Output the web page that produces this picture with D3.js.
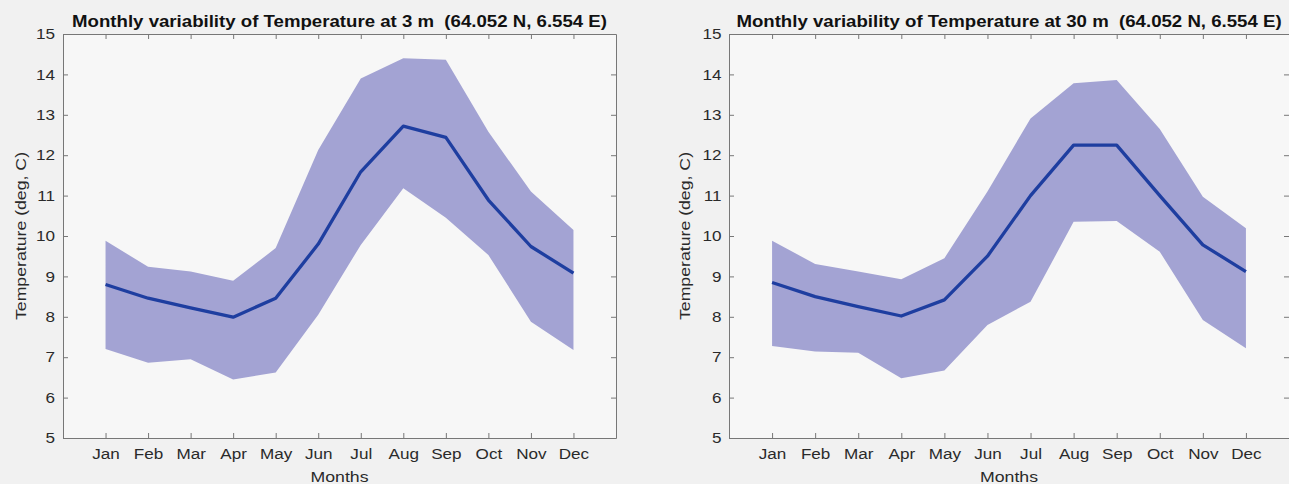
<!DOCTYPE html>
<html>
<head>
<meta charset="utf-8">
<script src="https://cdn.jsdelivr.net/npm/d3@7"></script>
<style>
  body { margin: 0; background: #f1f1f1; }
  svg { display: block; font-family: "Liberation Sans", Arial, sans-serif; }
  text { white-space: pre; }
</style>
</head>
<body>
<svg id="chart" width="1289" height="484"></svg>
<script>
const months = ['Jan', 'Feb', 'Mar', 'Apr', 'May', 'Jun', 'Jul', 'Aug', 'Sep', 'Oct', 'Nov', 'Dec']
const yTicks = [5, 6, 7, 8, 9, 10, 11, 12, 13, 14, 15]

// 3 m depth
const mean3  = [8.80, 8.46, 8.22, 7.99, 8.46, 9.80, 11.59, 12.72, 12.44, 10.89, 9.74, 9.08]
const upper3 = [9.88, 9.24, 9.12, 8.89, 9.70, 12.13, 13.90, 14.40, 14.36, 12.58, 11.10, 10.15]
const lower3 = [7.20, 6.86, 6.95, 6.45, 6.62, 8.05, 9.78, 11.18, 10.45, 9.53, 7.88, 7.18]

// 30 m depth
const mean30  = [8.85, 8.50, 8.25, 8.02, 8.42, 9.50, 11.0, 12.25, 12.25, 11.0, 9.78, 9.12]
const upper30 = [9.88, 9.31, 9.12, 8.93, 9.45, 11.1, 12.91, 13.78, 13.86, 12.65, 10.97, 10.19]
const lower30 = [7.28, 7.14, 7.11, 6.48, 6.67, 7.80, 8.37, 10.35, 10.37, 9.61, 7.92, 7.22]

const SX = 1.18        // glyphs in the picture are wider than Arial
const plotTop = 34, plotBottom = 438
const svg = d3.select('#chart')

function stretch(sel, x, y, rot) {
  sel.attr('transform', `translate(${x},${y})${rot ? ' rotate(' + rot + ')' : ''} scale(${SX},1)`)
}

function panel(o) {
  const x = d3.scaleLinear().domain([0, 13]).range([o.left, o.right])
  const y = d3.scaleLinear().domain([5, 15]).range([plotBottom, plotTop])
  const g = svg.append('g')

  g.append('rect')
    .attr('x', o.left).attr('y', plotTop)
    .attr('width', o.right - o.left).attr('height', plotBottom - plotTop)
    .attr('fill', '#f7f7f7')

  const band = d3.area()
    .x((d, i) => x(i + 1))
    .y0((d, i) => y(o.lower[i]))
    .y1((d, i) => y(o.upper[i]))

  g.append('path')
    .datum(months)
    .attr('d', band)
    .attr('fill', '#a3a3d3')

  const line = d3.line()
    .x((d, i) => x(i + 1))
    .y(d => y(d))

  g.append('path')
    .datum(o.mean)
    .attr('d', line)
    .attr('fill', 'none')
    .attr('stroke', '#1e3ea0')
    .attr('stroke-width', 3.3)
    .attr('stroke-linejoin', 'round')

  const monthIdx = months.map((m, i) => i + 1)

  // top and right box edges, ticks only
  g.append('g')
    .attr('transform', `translate(0,${plotTop})`)
    .call(d3.axisTop(x).tickValues(monthIdx).tickSizeInner(-5).tickSizeOuter(0).tickFormat(''))
  g.append('g')
    .attr('transform', `translate(${o.right},0)`)
    .call(d3.axisRight(y).tickValues(yTicks).tickSizeInner(-5).tickSizeOuter(0).tickFormat(''))

  const yAxis = g.append('g')
    .attr('transform', `translate(${o.left},0)`)
    .call(d3.axisLeft(y).tickValues(yTicks).tickSizeInner(-5).tickSizeOuter(0).tickPadding(o.tickGap))
  yAxis.selectAll('text').each(function () {
    const t = d3.select(this)
    const tx = +t.attr('x')
    t.attr('x', 0)
    stretch(t, tx, 0)
  })
  yAxis.selectAll('text').attr('font-size', '14.5px').attr('fill', '#2a2a2a')

  const xAxis = g.append('g')
    .attr('transform', `translate(0,${plotBottom})`)
    .call(d3.axisBottom(x).tickValues(monthIdx).tickSizeInner(-5).tickSizeOuter(0).tickPadding(11)
      .tickFormat(d => months[d - 1]))
  xAxis.selectAll('text').each(function () {
    const t = d3.select(this)
    const ty = +t.attr('y')
    t.attr('y', 0)
    stretch(t, 0, ty)
  })
  xAxis.selectAll('text').attr('font-size', '14.5px').attr('fill', '#2a2a2a')

  g.selectAll('.domain, .tick line').attr('stroke', '#777')

  const title = g.append('text')
    .attr('text-anchor', 'middle')
    .attr('font-size', '15.8px')
    .attr('font-weight', 'bold')
    .attr('fill', '#111')
    .text(o.title)
  stretch(title, (o.left + o.right) / 2, 27)

  const xl = g.append('text')
    .attr('text-anchor', 'middle')
    .attr('font-size', '15px')
    .attr('fill', '#2a2a2a')
    .text('Months')
  stretch(xl, x(6.5), 482)

  const yl = g.append('text')
    .attr('text-anchor', 'middle')
    .attr('font-size', '15px')
    .attr('fill', '#2a2a2a')
    .text('Temperature (deg, C)')
  stretch(yl, o.left - o.labelGap, (plotTop + plotBottom) / 2, -90)
}

panel({
  left: 63, right: 616, tickGap: 8, labelGap: 37,
  title: 'Monthly variability of Temperature at 3 m  (64.052 N, 6.554 E)',
  mean: mean3, upper: upper3, lower: lower3
})

panel({
  left: 729, right: 1289, tickGap: 7.5, labelGap: 39,
  title: 'Monthly variability of Temperature at 30 m  (64.052 N, 6.554 E)',
  mean: mean30, upper: upper30, lower: lower30
})
</script>
</body>
</html>
